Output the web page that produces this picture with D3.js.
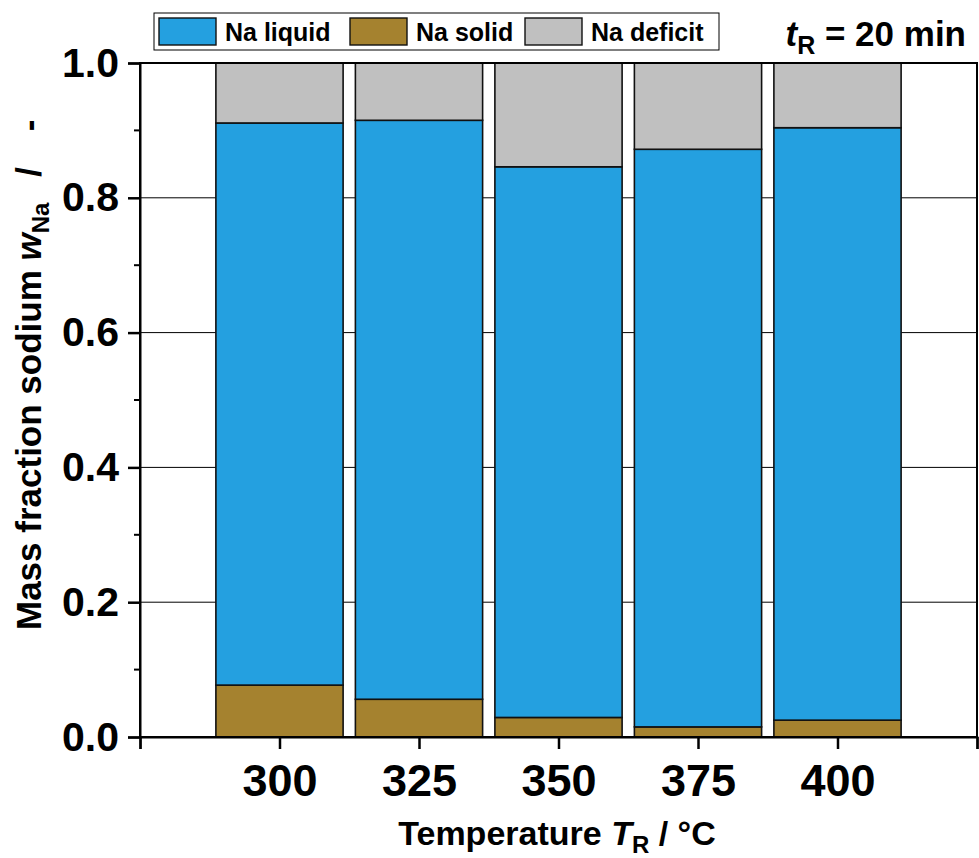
<!DOCTYPE html>
<html><head><meta charset="utf-8">
<script src="https://cdn.jsdelivr.net/npm/d3@7/dist/d3.min.js"></script>
<style>body{margin:0;background:#fff}svg{display:block;font-family:"Liberation Sans",Arial,sans-serif;font-weight:bold}</style>
</head><body><svg id="c" width="979" height="858"></svg>
<script>
const temperatures = [300, 325, 350, 375, 400];
const naSolid   = [0.077, 0.056, 0.029, 0.015, 0.025];
const naLiquid  = [0.834, 0.859, 0.817, 0.857, 0.879];
const naDeficit = [0.089, 0.085, 0.154, 0.128, 0.096];
const seriesNames = ["Na liquid", "Na solid", "Na deficit"];
const seriesColors = {"Na solid":"#A5822F","Na liquid":"#24A0E0","Na deficit":"#C0C0C0"};
const xTicks = [275, 300, 325, 350, 375, 400, 425];
const yTicks = [0, 0.2, 0.4, 0.6, 0.8, 1.0];
const yMinor = [0.1, 0.3, 0.5, 0.7, 0.9];

const svg = d3.select("#c");
const L=140, R=977, T=63, B=737;
const x = d3.scaleLinear().domain([275,425]).range([L,R]);
const y = d3.scaleLinear().domain([0,1]).range([B,T]);
const barW = 22.8;

// grid
svg.append("g").selectAll("line").data([0.2,0.4,0.6,0.8]).join("line")
  .attr("x1",L).attr("x2",R).attr("y1",d=>y(d)).attr("y2",d=>y(d))
  .attr("stroke","#000").attr("stroke-width",1);

// stacked bars
const rows = temperatures.map((t,i)=>({t, "Na solid":naSolid[i], "Na liquid":naLiquid[i], "Na deficit":naDeficit[i]}));
const stack = d3.stack().keys(["Na solid","Na liquid","Na deficit"])(rows);
stack.forEach(s=>{
  svg.append("g").selectAll("rect").data(s).join("rect")
    .attr("x",d=>x(d.data.t-barW/2)).attr("width",d=>x(d.data.t+barW/2)-x(d.data.t-barW/2))
    .attr("y",d=>y(d[1])).attr("height",d=>y(d[0])-y(d[1]))
    .attr("fill",seriesColors[s.key]).attr("stroke","#111").attr("stroke-width",1.6);
});

// frame
svg.append("rect").attr("x",L).attr("y",T).attr("width",R-L).attr("height",B-T)
  .attr("fill","none").attr("stroke","#000").attr("stroke-width",2);

// x axis
const xa = svg.append("g").attr("transform",`translate(0,${B})`)
  .call(d3.axisBottom(x).tickValues(xTicks).tickSize(12).tickFormat(d=> (d===275||d===425)?"":d));
xa.select(".domain").attr("stroke-width",2);
xa.selectAll(".tick line").attr("stroke-width",2.5);
xa.selectAll(".tick text").attr("font-size",45).attr("font-family","Liberation Sans, Arial, sans-serif").attr("font-weight","bold").attr("fill","#000").attr("y",27).attr("dy","0.71em");

// y axis
const ya = svg.append("g").attr("transform",`translate(${L},0)`)
  .call(d3.axisLeft(y).tickValues(yTicks).tickSize(12).tickFormat(d3.format(".1f")));
ya.select(".domain").attr("stroke-width",2);
ya.selectAll(".tick line").attr("stroke-width",2.5);
ya.selectAll(".tick text").attr("font-size",41).attr("font-family","Liberation Sans, Arial, sans-serif").attr("font-weight","bold").attr("fill","#000").attr("x",-21);
svg.append("g").selectAll("line").data(yMinor).join("line")
  .attr("x1",L-6).attr("x2",L).attr("y1",d=>y(d)).attr("y2",d=>y(d)).attr("stroke","#000").attr("stroke-width",2);

// axis titles
const xt = svg.append("text").attr("x",557).attr("y",845).attr("text-anchor","middle").attr("font-size",34);
xt.append("tspan").text("Temperature ");
xt.append("tspan").attr("font-style","italic").text("T");
xt.append("tspan").attr("font-size",24).attr("dy",8).text("R");
xt.append("tspan").attr("dy",-8).text(" / °C");

const yt = svg.append("text").attr("transform","translate(41,0) rotate(-90)").attr("x",-630).attr("text-anchor","start").attr("font-size",35);
yt.append("tspan").text("Mass fraction sodium ");
yt.append("tspan").attr("font-style","italic").text("w");
yt.append("tspan").attr("font-size",24).attr("dy",8).text("Na");
yt.append("tspan").attr("dy",-8).attr("dx",16).text(" /");
yt.append("tspan").attr("dx",26).text(" -");

// tR label
const tr = svg.append("text").attr("x",966).attr("y",46).attr("text-anchor","end").attr("font-size",35);
tr.append("tspan").attr("font-style","italic").text("t");
tr.append("tspan").attr("font-size",25).attr("dy",8).text("R");
tr.append("tspan").attr("dy",-8).text(" = 20 min");

// legend
const lg = svg.append("g");
lg.append("rect").attr("x",154).attr("y",13).attr("width",565).attr("height",37).attr("fill","#fff").attr("stroke","#000").attr("stroke-width",1);
const legX = [159, 350, 525];
seriesNames.forEach((n,i)=>{
  lg.append("rect").attr("x",legX[i]).attr("y",18).attr("width",57).attr("height",27)
    .attr("fill",seriesColors[n]).attr("stroke","#111").attr("stroke-width",1.4);
  lg.append("text").attr("x",legX[i]+66).attr("y",41).attr("font-size",25).text(n);
});
</script></body></html>
